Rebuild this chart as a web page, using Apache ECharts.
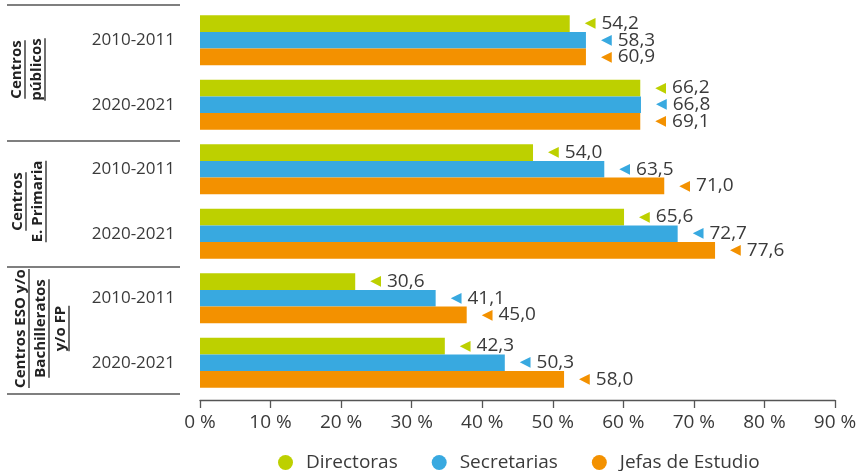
<!DOCTYPE html>
<html><head><meta charset="utf-8">
<script src="https://cdn.jsdelivr.net/npm/echarts@6/dist/echarts.min.js"></script>
<style>html,body{margin:0;padding:0;background:#fff}#c{width:864px;height:471px}</style>
</head><body><div id="c"></div>
<script>
// Category ids (top to bottom) and their printed year labels
const categories = ['pub-2010', 'pub-2020', 'pri-2010', 'pri-2020', 'eso-2010', 'eso-2020'];
const yearLabels = ['2010-2011', '2020-2021', '2010-2011', '2020-2021', '2010-2011', '2020-2021'];
// Group labels (each spans two categories)
const groupLines = [['Centros', 'públicos'], ['Centros', 'E. Primaria'], ['Centros ESO y/o', 'Bachilleratos', 'y/o FP']];
const groupCats = [[0, 1], [2, 3], [4, 5]];
// Series names
const seriesNames = ['Directoras', 'Secretarias', 'Jefas de Estudio'];
// Bar lengths as drawn in the picture (% of axis)
const barDirectoras = [52.4, 62.4, 47.2, 60.1, 22.0, 34.7];
const barSecretarias = [54.7, 62.5, 57.3, 67.7, 33.4, 43.2];
const barJefas = [54.7, 62.4, 65.8, 73.0, 37.8, 51.6];
// Printed value labels
const labDirectoras = ['54,2', '66,2', '54,0', '65,6', '30,6', '42,3'];
const labSecretarias = ['58,3', '66,8', '63,5', '72,7', '41,1', '50,3'];
const labJefas = ['60,9', '69,1', '71,0', '77,6', '45,0', '58,0'];
// Axis ticks
const axisMin = 0, axisMax = 90, axisStep = 10;

const colors = ['#bdd000', '#38a9e0', '#f39100'];
const FONT = '"Open Sans", Lato, sans-serif';
const TXT = '#3a3a3a';

const bars = [barDirectoras, barSecretarias, barJefas];
const labs = [labDirectoras, labSecretarias, labJefas];

const chart = echarts.init(document.getElementById('c'), null, {renderer: 'canvas'});

const series = seriesNames.map((name, s) => ({
  name: name,
  type: 'bar',
  data: bars[s],
  barWidth: 16.7,
  barGap: '0%',
  itemStyle: {color: colors[s]},
  emphasis: {disabled: true},
  label: {
    show: true,
    position: 'right',
    distance: 15,
    formatter: p => '{t|◀}{v|' + labs[s][p.dataIndex] + '}',
    rich: {
      t: {color: colors[s], fontSize: 14, fontFamily: '"DejaVu Sans", sans-serif', padding: [0, 6, 0, 0]},
      v: {color: TXT, fontSize: 19, fontFamily: FONT}
    }
  }
}));

chart.setOption({
  animation: false,
  backgroundColor: '#fff',
  color: colors,
  grid: {left: 200, right: 29, top: 8, bottom: 76, containLabel: false},
  legend: {
    data: seriesNames,
    left: 273, top: 448,
    icon: 'circle',
    itemWidth: 15, itemHeight: 15,
    itemGap: 34,
    textStyle: {color: TXT, fontSize: 19, fontFamily: FONT, padding: [0, 0, 0, 8]},
    selectedMode: false
  },
  xAxis: {
    type: 'value',
    min: axisMin, max: axisMax, interval: axisStep,
    offset: 5,
    axisLine: {show: true, lineStyle: {color: '#555', width: 1.3}},
    axisTick: {show: true, length: 8, lineStyle: {color: '#555', width: 1.3}},
    splitLine: {show: false},
    axisLabel: {color: TXT, fontSize: 19, fontFamily: FONT, margin: 13, formatter: '{value} %'}
  },
  yAxis: {
    type: 'category',
    inverse: true,
    data: categories,
    axisLine: {show: false},
    axisTick: {show: false},
    axisLabel: {color: TXT, fontSize: 17, fontFamily: FONT, margin: 25,
      formatter: (v, i) => yearLabels[i]}
  },
  series: series
});

// Group labels (rotated, bold, underlined) and separator lines
const cvs = document.createElement('canvas').getContext('2d');
const gFont = 'bold 15px ' + FONT;
cvs.font = gFont;
const graphics = [];
const startX = [17, 18, 21];
const yShift = [-3, 0, -2];
groupLines.forEach((lines, g) => {
  const y0 = chart.convertToPixel({yAxisIndex: 0}, groupCats[g][0]);
  const y1 = chart.convertToPixel({yAxisIndex: 0}, groupCats[g][1]);
  const cy = (y0 + y1) / 2 + yShift[g];
  lines.forEach((t, i) => {
    const x = startX[g] + i * 20;
    const w = cvs.measureText(t).width;
    graphics.push({
      type: 'text', x: x, y: cy, rotation: Math.PI / 2, silent: true,
      style: {text: t, font: gFont, fill: '#222', align: 'center', verticalAlign: 'middle'}
    });
    graphics.push({
      type: 'line', silent: true,
      shape: {x1: x + 8, y1: cy - w / 2, x2: x + 8, y2: cy + w / 2},
      style: {stroke: '#222', lineWidth: 1.3}
    });
  });
});
[5, 141, 267, 394].forEach(y => {
  graphics.push({type: 'line', silent: true, shape: {x1: 7, y1: y, x2: 180, y2: y},
    style: {stroke: '#555', lineWidth: 1.5}});
});
chart.setOption({graphic: graphics});
</script>
</body></html>
